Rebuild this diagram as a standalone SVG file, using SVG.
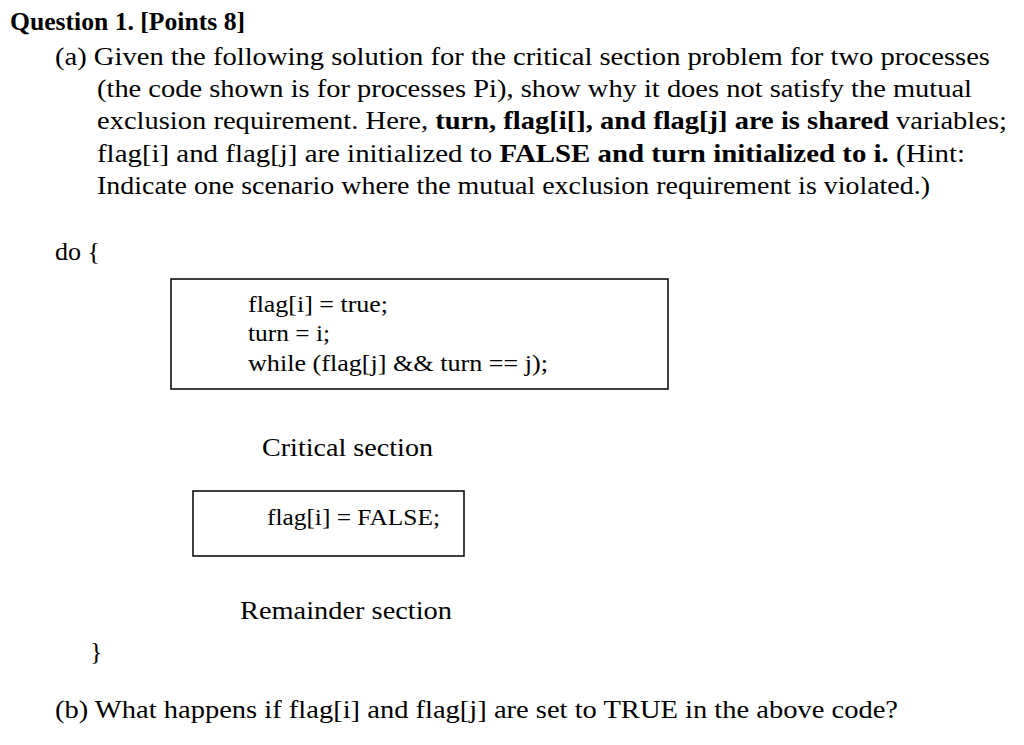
<svg xmlns="http://www.w3.org/2000/svg" width="1024" height="745" viewBox="0 0 1024 745">
<style>
text{font-family:"Liberation Serif","Times New Roman",serif;fill:#000;font-size:26px}
.b{font-weight:bold}
.c{font-size:24px}
.box{fill:none;stroke:#000;stroke-width:1.5}
</style>
<rect width="1024" height="745" fill="#fff"/>
<text x="10" y="30" class="b" textLength="235" lengthAdjust="spacingAndGlyphs">Question 1. [Points 8]</text>
<text x="55" y="65" textLength="935" lengthAdjust="spacingAndGlyphs">(a) Given the following solution for the critical section problem for two processes</text>
<text x="97" y="97" textLength="875" lengthAdjust="spacingAndGlyphs">(the code shown is for processes Pi), show why it does not satisfy the mutual</text>
<text x="97" y="129" textLength="910" lengthAdjust="spacingAndGlyphs">exclusion requirement. Here, <tspan class="b">turn, flag[i[], and flag[j] are is shared</tspan> variables;</text>
<text x="97" y="162" textLength="868" lengthAdjust="spacingAndGlyphs">flag[i] and flag[j]  are initialized to <tspan class="b">FALSE and turn initialized to i.</tspan> (Hint:</text>
<text x="97" y="194" textLength="833" lengthAdjust="spacingAndGlyphs">Indicate one scenario where the mutual exclusion requirement is violated.)</text>
<text x="55" y="260">do {</text>
<g id="entry">
<rect class="box" x="171" y="279" width="497" height="110"/>
<text class="c" x="248" y="312" textLength="140" lengthAdjust="spacingAndGlyphs">flag[i] = true;</text>
<text class="c" x="248" y="341" textLength="82" lengthAdjust="spacingAndGlyphs">turn = i;</text>
<text class="c" x="248" y="371" textLength="300" lengthAdjust="spacingAndGlyphs">while (flag[j] &amp;&amp; turn == j);</text>
</g>
<g id="critical"><text x="262" y="456" textLength="171" lengthAdjust="spacingAndGlyphs">Critical section</text></g>
<g id="exit">
<rect class="box" x="193" y="491" width="271" height="65"/>
<text class="c" x="267" y="525" textLength="173" lengthAdjust="spacingAndGlyphs">flag[i] = FALSE;</text>
</g>
<g id="remainder"><text x="240" y="619" textLength="212" lengthAdjust="spacingAndGlyphs">Remainder section</text></g>
<text x="90" y="660">}</text>
<text x="55" y="718" textLength="843" lengthAdjust="spacingAndGlyphs">(b) What happens if flag[i] and flag[j] are set to TRUE in the above code?</text>
<g id="connectors"/>
</svg>
